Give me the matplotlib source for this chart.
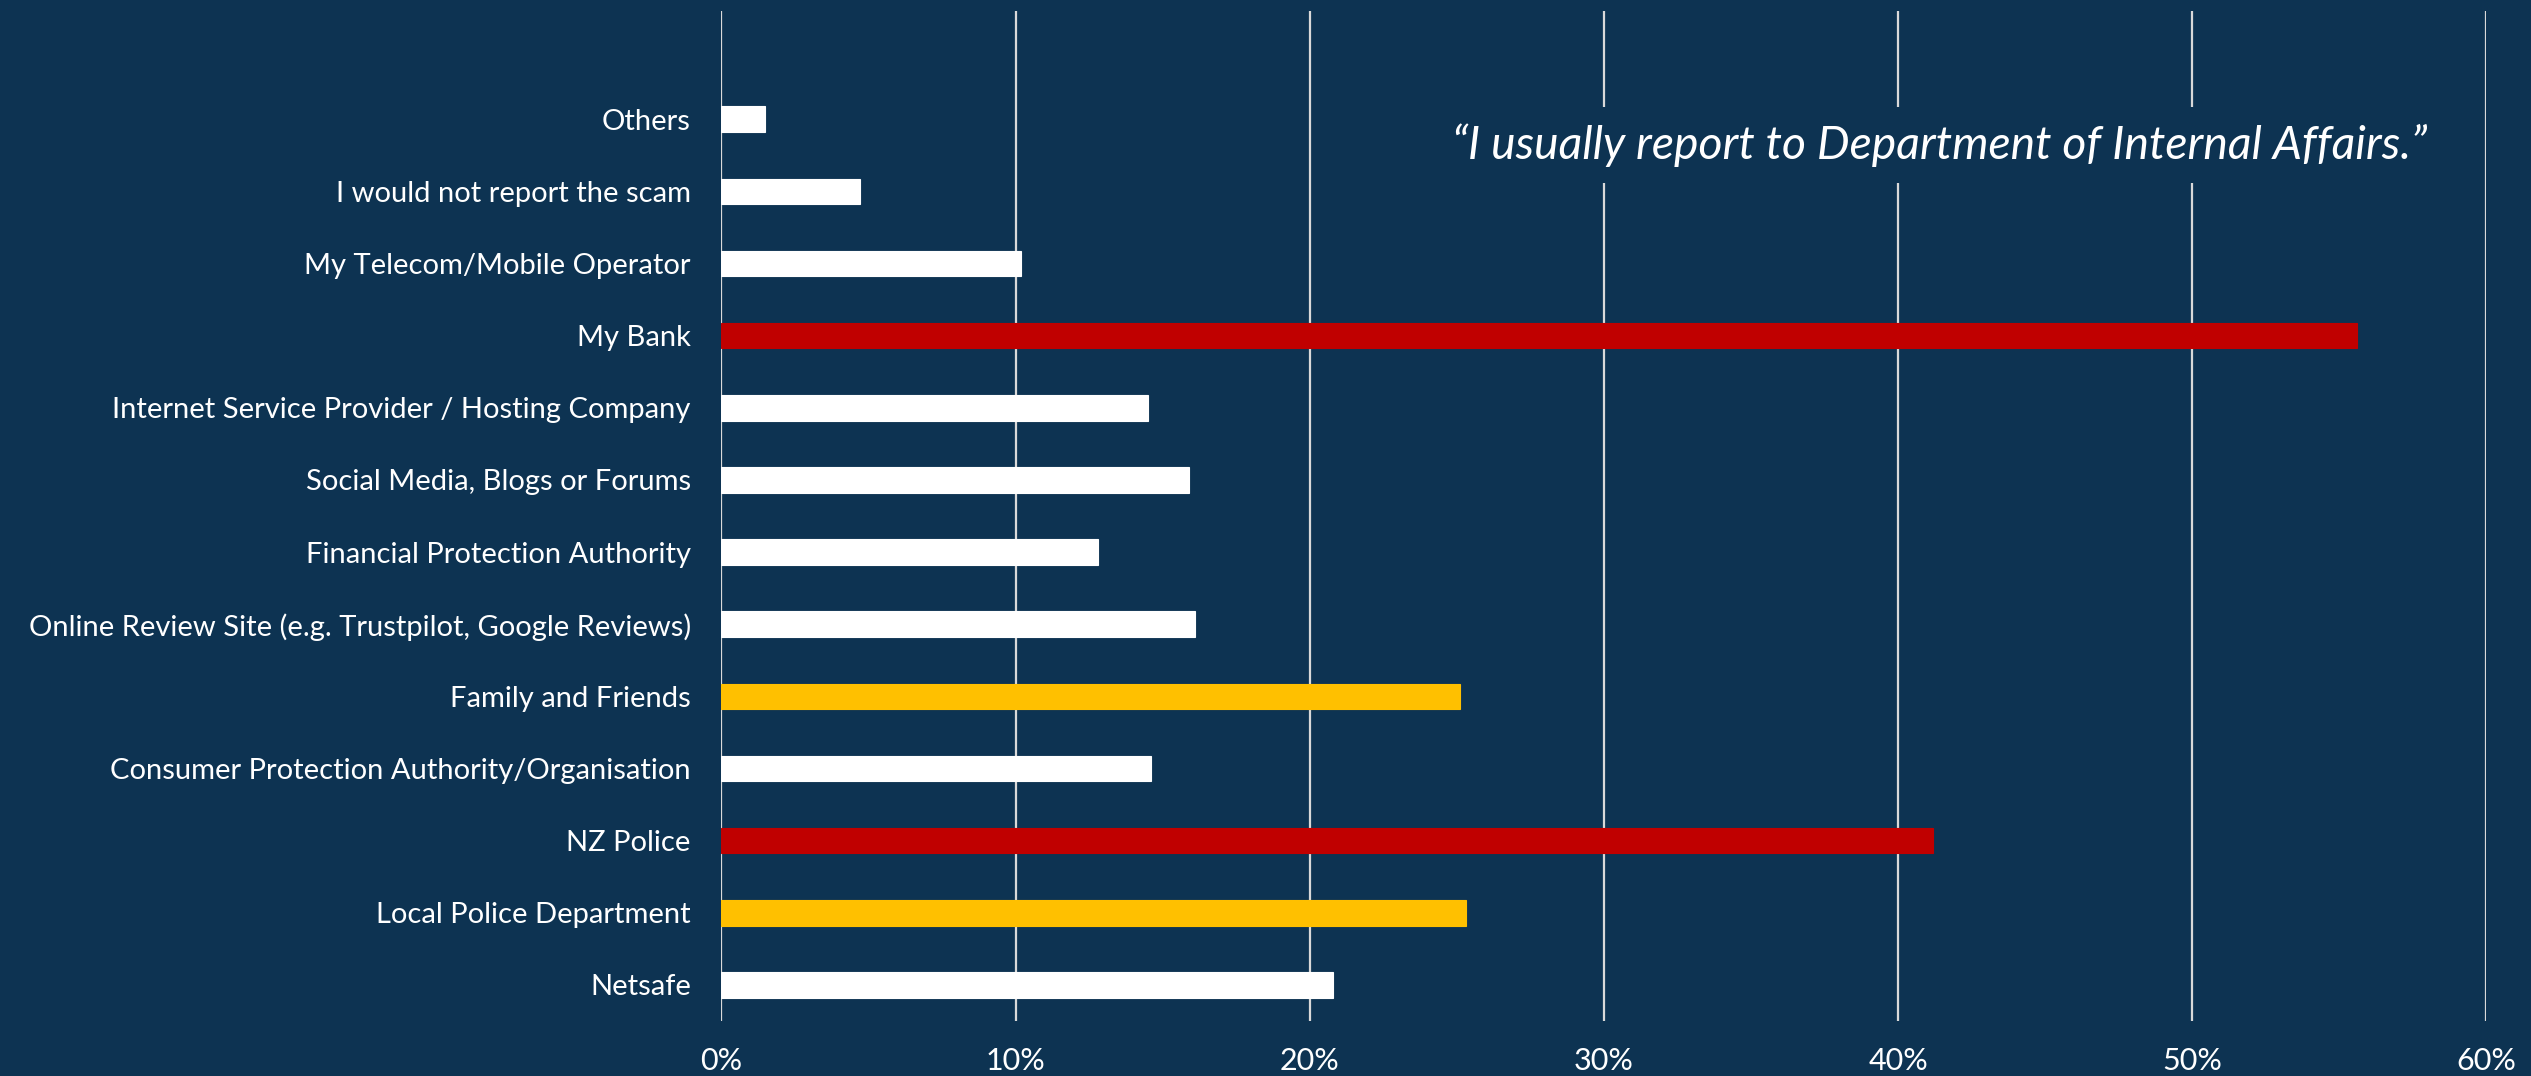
import matplotlib.pyplot as plt
from matplotlib import font_manager
from matplotlib.ticker import PercentFormatter

# Survey: where people report a scam (share of respondents)
channels = ['Netsafe', 'Local Police Department', 'NZ Police',
            'Consumer Protection Authority/Organisation', 'Family and Friends',
            'Online Review Site (e.g. Trustpilot, Google Reviews)',
            'Financial Protection Authority', 'Social Media, Blogs or Forums',
            'Internet Service Provider / Hosting Company', 'My Bank',
            'My Telecom/Mobile Operator', 'I would not report the scam', 'Others']
shares = [20.8, 25.3, 41.2, 14.6, 25.1, 16.1, 12.8, 15.9, 14.5, 55.6, 10.2, 4.7, 1.5]
highlight = ['none', 'second', 'top', 'none', 'second', 'none', 'none',
             'none', 'none', 'top', 'none', 'none', 'none']
quote = '\u201cI usually report to Department of Internal Affairs.\u201d'

bg = '#0D3352'
palette = {'none': '#FFFFFF', 'second': '#FFC000', 'top': '#C00000'}

names = {f.name for f in font_manager.fontManager.ttflist}
family = 'Lato' if 'Lato' in names else 'DejaVu Sans'
plt.rcParams['font.family'] = [family, 'DejaVu Sans']

fig = plt.figure(figsize=(25.31, 10.76), dpi=100, facecolor=bg)
ax = fig.add_axes([0.285, 0.0511, 0.6974, 0.9387])
ax.set_facecolor(bg)

ypos = list(range(len(channels)))
ax.barh(ypos, shares, height=0.353,
        color=[palette[h] for h in highlight],
        edgecolor=[palette[h] for h in highlight], linewidth=0.8, zorder=3)

ax.set_xlim(0, 60)
ax.set_ylim(-0.5, 13.5)
ax.set_xticks(range(0, 61, 10))
ax.xaxis.set_major_formatter(PercentFormatter(decimals=0))
ax.set_yticks(ypos)
ax.set_yticklabels(channels)

ax.grid(axis='x', color='#D9D9D9', linewidth=1.6, zorder=1)
ax.grid(axis='y', visible=False)
for s in ax.spines.values():
    s.set_visible(False)
ax.tick_params(axis='y', length=0, pad=22, labelsize=21, labelcolor='white')
ax.tick_params(axis='x', length=0, pad=19, labelsize=22, labelcolor='white')

ax.text(0.69, 0.867, quote, transform=ax.transAxes, ha='center', va='center',
        fontsize=33.3, style='italic', color='white', zorder=5,
        bbox=dict(boxstyle='square,pad=0.35', facecolor=bg, edgecolor='none'))

fig.savefig('out.png', dpi=100, facecolor=bg)
